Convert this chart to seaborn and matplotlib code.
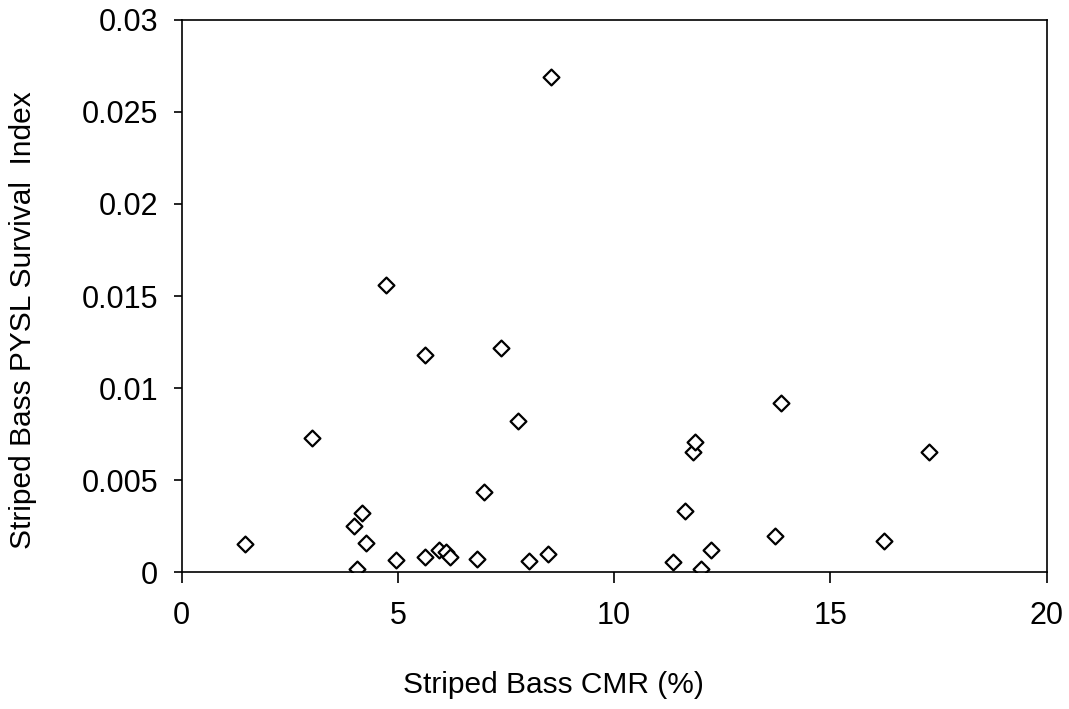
import matplotlib
matplotlib.use("Agg")
import matplotlib.pyplot as plt
import matplotlib.ticker as mticker
import seaborn as sns
import pandas as pd

# Striped Bass CMR (%) vs PYSL survival index
cmr = [1.46, 3.01, 3.98, 4.17, 4.27, 4.06, 4.72, 4.96, 5.62, 5.62,
       5.95, 6.12, 6.20, 6.82, 7.00, 7.38, 7.77, 8.03, 8.47, 8.53,
       11.35, 11.63, 11.82, 11.88, 12.00, 12.23, 13.73, 13.85, 16.25, 17.27]
survival = [0.00152, 0.00728, 0.00250, 0.00322, 0.00156, 0.00015, 0.0156, 0.00065, 0.0118, 0.00080,
            0.00120, 0.00110, 0.00080, 0.00070, 0.00435, 0.0122, 0.0082, 0.00060, 0.00100, 0.0269,
            0.00056, 0.00330, 0.00654, 0.00708, 0.00015, 0.00120, 0.00196, 0.0092, 0.00170, 0.0065]

x_ticks = [0, 5, 10, 15, 20]
y_ticks = [0, 0.005, 0.01, 0.015, 0.02, 0.025, 0.03]

df = pd.DataFrame({"cmr": cmr, "survival": survival})

sns.set_style("ticks")
plt.rcParams["font.family"] = ["Liberation Sans", "DejaVu Sans"]
plt.rcParams["text.color"] = "black"
plt.rcParams["axes.labelcolor"] = "black"

fig = plt.figure(figsize=(10.69, 7.09), dpi=100)
ax = fig.add_axes([0.170, 0.193, 0.809, 0.779])

sns.scatterplot(data=df, x="cmr", y="survival", ax=ax, marker="D", s=65,
                facecolor="white", edgecolor="black", linewidth=1.6)

ax.set_xlim(0, 20)
ax.set_ylim(0, 0.03)
ax.set_xticks(x_ticks)
ax.set_yticks(y_ticks)
ax.yaxis.set_major_formatter(mticker.FormatStrFormatter("%g"))
ax.tick_params(axis="both", labelsize=22, width=1.2, direction="out", colors="black")
ax.tick_params(axis="x", length=8, pad=13)
ax.tick_params(axis="y", length=6, pad=11)
for sp in ax.spines.values():
    sp.set_linewidth(1.2)
    sp.set_color("black")

ax.set_xlabel("Striped Bass CMR (%)", fontsize=21.5)
ax.set_ylabel("Striped Bass PYSL Survival  Index", fontsize=21.5)
ax.xaxis.set_label_coords(0.43, -0.205)
ax.yaxis.set_label_coords(-0.183, 0.457)
ax.xaxis.label.set_verticalalignment("center")
ax.yaxis.label.set_verticalalignment("center")

plt.savefig("out.png", dpi=100)
plt.close()
